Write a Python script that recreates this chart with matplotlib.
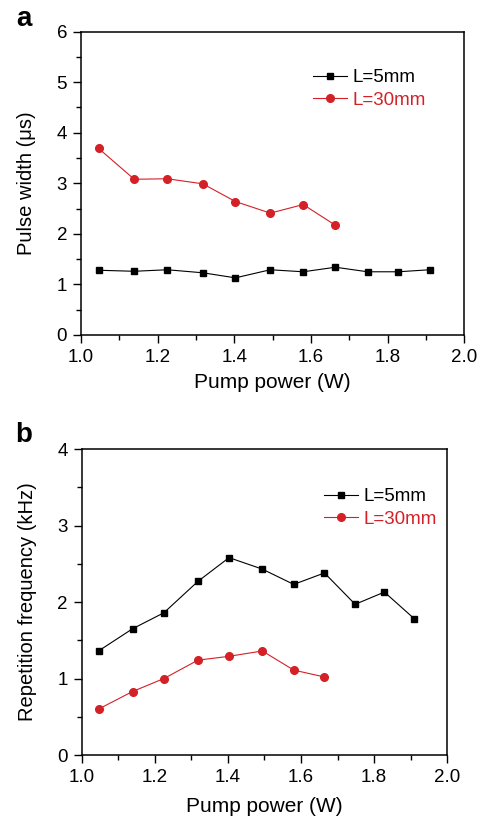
"""
Pulse width and repetition frequency vs pump power
"""
import matplotlib
matplotlib.use("Agg")
import matplotlib.pyplot as plt
from matplotlib.ticker import MultipleLocator

plt.rcParams['font.family'] = ['Liberation Sans', 'DejaVu Sans']

# pump power (W)
power_5mm = [1.046, 1.139, 1.225, 1.318, 1.403, 1.494, 1.580, 1.664, 1.748, 1.828, 1.910]
power_30mm = [1.046, 1.139, 1.225, 1.318, 1.403, 1.494, 1.580, 1.664]

# pulse width (us)
width_5mm = [1.28, 1.26, 1.29, 1.23, 1.13, 1.29, 1.25, 1.34, 1.25, 1.25, 1.29]
width_30mm = [3.69, 3.08, 3.09, 2.99, 2.64, 2.41, 2.58, 2.17]

# repetition frequency (kHz)
freq_5mm = [1.36, 1.65, 1.86, 2.27, 2.58, 2.43, 2.23, 2.38, 1.97, 2.13, 1.78]
freq_30mm = [0.60, 0.83, 1.00, 1.24, 1.29, 1.36, 1.11, 1.02]

labels = ['L=5mm', 'L=30mm']
red = '#d42027'

fig = plt.figure(figsize=(4.82, 8.18), dpi=100)
ax1 = fig.add_axes([0.168, 0.5905, 0.795, 0.3708])
ax2 = fig.add_axes([0.1695, 0.0770, 0.7585, 0.3741])


def style(ax, ymax, ylabel, lx, ly):
    ax.set_xlim(1.0, 2.0)
    ax.set_ylim(0, ymax)
    ax.xaxis.set_major_locator(MultipleLocator(0.2))
    ax.xaxis.set_minor_locator(MultipleLocator(0.1))
    ax.yaxis.set_major_locator(MultipleLocator(1))
    ax.yaxis.set_minor_locator(MultipleLocator(0.5))
    ax.tick_params(which='both', direction='out', labelsize=13.5, width=1)
    ax.tick_params(which='major', length=6, pad=4)
    ax.tick_params(which='minor', length=3.5)
    for s in ax.spines.values():
        s.set_linewidth(1.1)
    ax.set_xlabel('Pump power (W)', fontsize=15)
    ax.set_ylabel(ylabel, fontsize=14.5)
    ax.yaxis.set_label_coords(lx, 0.5)
    ax.xaxis.set_label_coords(0.5, ly)


ax1.plot(power_5mm, width_5mm, color='black', lw=0.8, marker='s', ms=5, label=labels[0])
ax1.plot(power_30mm, width_30mm, color=red, lw=0.8, marker='o', ms=5.5, label=labels[1])
style(ax1, 6, 'Pulse width (\u03bcs)', -0.117, -0.125)

ax2.plot(power_5mm, freq_5mm, color='black', lw=0.8, marker='s', ms=5, label=labels[0])
ax2.plot(power_30mm, freq_30mm, color=red, lw=0.8, marker='o', ms=5.5, label=labels[1])
style(ax2, 4, 'Repetition frequency (kHz)', -0.122, -0.136)

for ax, pos in [(ax1, (0.606, 0.811)), (ax2, (0.663, 0.807))]:
    leg = ax.legend(loc='center left', bbox_to_anchor=pos, frameon=False, fontsize=13.5,
                    borderpad=0, borderaxespad=0, handlelength=1.8, handletextpad=0.3,
                    labelspacing=0.3)
    for text, col in zip(leg.get_texts(), ['black', red]):
        text.set_color(col)

fig.text(0.05, 0.968, 'a', fontsize=20, fontweight='bold', ha='center', va='baseline')
fig.text(0.05, 0.4597, 'b', fontsize=20, fontweight='bold', ha='center', va='baseline')

fig.savefig('out.png', dpi=100)
